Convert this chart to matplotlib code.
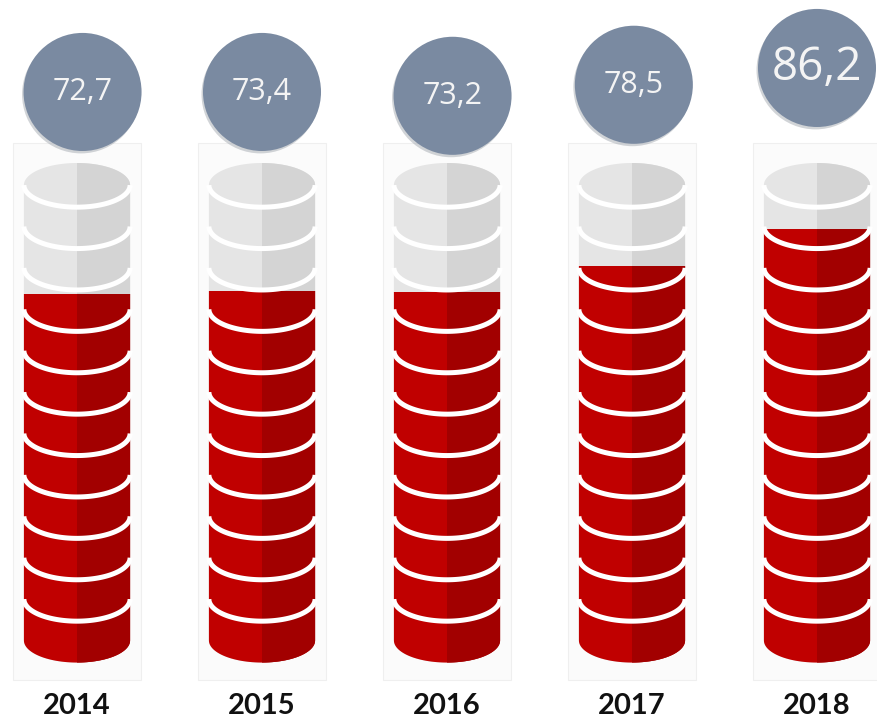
import numpy as np
import matplotlib
matplotlib.use("Agg")
from matplotlib import pyplot as plt
from matplotlib.patches import Rectangle, Ellipse

years = ["2014", "2015", "2016", "2017", "2018"]
values = [72.7, 73.4, 73.2, 78.5, 86.2]
value_labels = ["72,7", "73,4", "73,2", "78,5", "86,2"]

# layout of the bubbles (in axis units), not data
bubble_dx = [0.03, 0.0, 0.03, 0.01, 0.0]
bubble_y = [114.8, 114.8, 114.0, 116.3, 119.8]
label_size = [22, 22, 22, 22, 33]

gray_l, gray_r = "#e5e5e5", "#d4d4d4"
red_l, red_r = "#c00000", "#a20000"
bubble_col = "#7a8aa1"

fig = plt.figure(figsize=(8.78, 7.27), dpi=100)
ax = fig.add_axes([0, 0, 1, 1])
ax.set_xlim(-77 / 185, 801 / 185)
ax.set_ylim(-84 / 4.8, 643 / 4.8)
ax.axis("off")

w = 0.287       # half width of a cylinder
b = 4.6         # half height of the ellipses
top_c = 95.4    # centre of the top face
step = 8.625    # height of one disk
n_disks = 11
bot_c = top_c - step * n_disks


def silhouette(xc):
    t1 = np.linspace(np.pi, 2 * np.pi, 60)
    t2 = np.linspace(0, np.pi, 60)
    xs = np.concatenate([[xc - w], xc + w * np.cos(t1), [xc + w], xc + w * np.cos(t2)])
    ys = np.concatenate([[top_c], bot_c + b * np.sin(t1), [bot_c], top_c + b * np.sin(t2)])
    return xs, ys


for i, (yr, v) in enumerate(zip(years, values)):
    xc = i
    # faint card behind each cylinder
    ax.add_patch(Rectangle((xc - 0.346, -7.7), 0.692, 111.9, facecolor="#fbfbfb",
                           edgecolor="#efefef", lw=0.8, zorder=1))
    xs, ys = silhouette(xc)
    # empty (gray) cylinder
    ax.fill(xs, ys, color=gray_l, lw=0, zorder=2)
    p = ax.fill(xs, ys, color=gray_r, lw=0, zorder=2)[0]
    p.set_clip_path(Rectangle((xc, -50), 1, 300, transform=ax.transData))
    # filled (red) part up to the value
    p = ax.fill(xs, ys, color=red_l, lw=0, zorder=3)[0]
    p.set_clip_path(Rectangle((xc - 1, -50), 2, v + 50, transform=ax.transData))
    p = ax.fill(xs, ys, color=red_r, lw=0, zorder=3)[0]
    p.set_clip_path(Rectangle((xc, -50), 1, v + 50, transform=ax.transData))
    # white rings between the disks
    t = np.linspace(np.pi, 2 * np.pi, 80)
    for k in range(n_disks):
        c = top_c - step * k
        ax.plot(xc + w * np.cos(t), c + b * np.sin(t), color="white", lw=3.6,
                solid_capstyle="butt", zorder=4)

    # value bubble
    bx = xc + bubble_dx[i]
    by = bubble_y[i]
    ax.add_patch(Ellipse((bx - 0.008, by - 0.5), 2 * 0.319, 2 * 12.3,
                         facecolor="#9aa0a8", alpha=0.45, lw=0, zorder=5))
    ax.add_patch(Ellipse((bx, by), 2 * 0.319, 2 * 12.3, facecolor=bubble_col,
                         lw=0, zorder=6))
    ax.text(bx, by, value_labels[i], ha="center", va="center", color="#f4f4f4",
            fontsize=label_size[i], family=["Open Sans", "DejaVu Sans"], zorder=7)

    # year label
    ax.text(xc, -13.2, yr, ha="center", va="center", color="#111111",
            fontsize=21, fontweight="bold", family=["Lato", "DejaVu Sans"], zorder=7)

plt.savefig("out.png", dpi=100)
